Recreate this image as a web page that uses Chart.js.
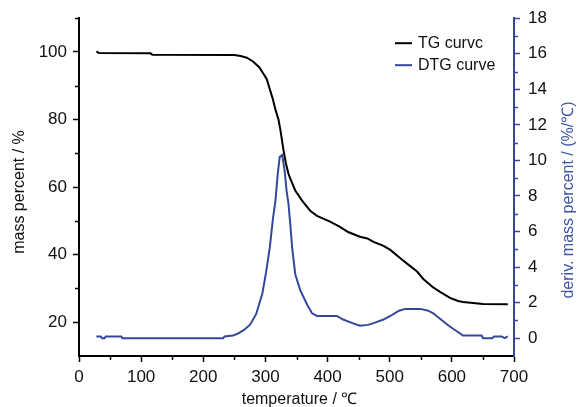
<!DOCTYPE html>
<html>
<head>
<meta charset="utf-8">
<script src="https://cdn.jsdelivr.net/npm/chart.js@4.4.1/dist/chart.umd.min.js"></script>
<style>
  body { margin: 0; background: #fff; }
  #wrap { width: 578px; height: 407px; }
</style>
</head>
<body>
<div id="wrap"><canvas id="tg-chart" width="578" height="407"></canvas></div>
<script>
// TG curve: mass percent vs temperature
const tgTemp = [28, 32, 115, 118, 250, 260, 270, 280, 290, 296, 302, 307, 312, 316, 321, 324, 329, 333, 337, 340,
  348, 359, 372, 383, 404, 420, 433, 452, 464, 474, 490, 501, 520, 533, 544, 554, 570, 581, 597, 610, 618, 650, 690];
const tgMass = [100.2, 99.7, 99.6, 99.2, 99.1, 98.8, 98.3, 97.2, 95.5, 93.8, 92, 89, 86, 83, 80, 77, 71, 67, 64, 62.5,
  59, 56, 53, 51.5, 49.8, 48.2, 46.7, 45.3, 44.8, 43.8, 42.6, 41.4, 38.5, 36.6, 35, 32.8, 30.3, 29, 27.2, 26.3, 26, 25.4, 25.3];

// DTG curve: derivative mass percent vs temperature
const dtgTemp = [28, 35, 37, 41, 43, 68, 70, 232, 234, 248, 255, 265, 275, 285, 295, 301, 307, 312, 316, 320,
  323, 327, 331, 334, 337, 340, 343, 348, 356, 367, 375, 383, 415, 425, 440, 452, 465, 474, 490, 501,
  515, 525, 549, 562, 570, 595, 618, 648, 650, 665, 668, 680, 685, 690];
const dtgRate = [0.1, 0.1, 0, 0, 0.1, 0.1, 0, 0, 0.1, 0.15, 0.25, 0.45, 0.75, 1.35, 2.5, 3.7, 5.1, 6.7, 7.7, 9.3,
  10.2, 10.3, 9.4, 8.3, 7.6, 6.4, 5.1, 3.6, 2.7, 1.9, 1.4, 1.25, 1.25, 1.05, 0.85, 0.7, 0.75, 0.85, 1.05, 1.25,
  1.55, 1.65, 1.65, 1.55, 1.4, 0.7, 0.15, 0.15, 0, 0, 0.1, 0.1, 0, 0.1];

// tick labels and the unlabelled minor ticks between them
const tempTicks = [0, 100, 200, 300, 400, 500, 600, 700];
const tempMinor = [50, 150, 250, 350, 450, 550, 650];
const massTicks = [20, 40, 60, 80, 100];
const massMinor = [30, 50, 70, 90, 110];
const derivTicks = [0, 2, 4, 6, 8, 10, 12, 14, 16, 18];
const derivMinor = [1, 3, 5, 7, 9, 11, 13, 15, 17];

const BLUE = '#34489b';
const FONT = 'Arial, "Liberation Sans", sans-serif';

function toPoints(xs, ys) {
  return xs.map((x, i) => ({ x, y: ys[i] }));
}

function fixedTicks(values) {
  return scale => { scale.ticks = values.map(v => ({ value: v })); };
}

// minor ticks, axis titles and the legend inside the plot
const decorations = {
  id: 'decorations',
  afterDraw(chart) {
    const { ctx, chartArea: area, scales } = chart;
    ctx.save();
    ctx.lineWidth = 1.5;

    const tick = (x1, y1, x2, y2) => {
      ctx.beginPath(); ctx.moveTo(x1, y1); ctx.lineTo(x2, y2); ctx.stroke();
    };

    ctx.strokeStyle = '#000';
    for (const v of tempMinor) {
      const px = Math.round(scales.x.getPixelForValue(v)) + 0.5;
      tick(px, area.bottom, px, area.bottom + 4);
    }
    for (const v of massMinor) {
      const py = Math.round(scales.y.getPixelForValue(v)) + 0.5;
      tick(area.left, py, area.left - 4, py);
    }
    ctx.strokeStyle = BLUE;
    for (const v of derivMinor) {
      const py = Math.round(scales.y2.getPixelForValue(v)) + 0.5;
      tick(area.right, py, area.right + 4, py);
    }

    // axis titles
    ctx.font = '16px ' + FONT;
    ctx.textAlign = 'center';
    ctx.textBaseline = 'middle';
    ctx.fillStyle = '#111';
    ctx.fillText('temperature / ℃', (area.left + area.right) / 2 + 3, 400);

    ctx.save();
    ctx.translate(20, 192);
    ctx.rotate(-Math.PI / 2);
    ctx.fillText('mass percent / %', 0, 0);
    ctx.restore();

    ctx.save();
    ctx.fillStyle = '#3f55a5';
    ctx.translate(569, 200);
    ctx.rotate(-Math.PI / 2);
    ctx.fillText('deriv. mass percent / (%/℃)', 0, 0);
    ctx.restore();

    // legend
    ctx.textAlign = 'left';
    chart.data.datasets.forEach((ds, i) => {
      const y = area.top + 25 + i * 22;
      const x = area.right - 119;
      ctx.strokeStyle = ds.borderColor;
      ctx.lineWidth = 2;
      tick(x, y, x + 17, y);
      ctx.fillStyle = '#111';
      ctx.fillText(ds.label, x + 23, y);
    });
    ctx.restore();
  },
};

new Chart(document.getElementById('tg-chart').getContext('2d'), {
  type: 'scatter',
  data: {
    datasets: [
      {
        label: 'TG curvc',
        data: toPoints(tgTemp, tgMass),
        yAxisID: 'y',
        showLine: true,
        borderColor: '#000',
        borderWidth: 2,
        pointRadius: 0,
        tension: 0,
      },
      {
        label: 'DTG curve',
        data: toPoints(dtgTemp, dtgRate),
        yAxisID: 'y2',
        showLine: true,
        borderColor: BLUE,
        borderWidth: 2,
        pointRadius: 0,
        tension: 0,
      },
    ],
  },
  options: {
    responsive: false,
    animation: false,
    layout: { padding: { top: 18, left: 0, right: 0, bottom: 0 } },
    plugins: { legend: { display: false }, tooltip: { enabled: false } },
    scales: {
      x: {
        type: 'linear',
        min: 0,
        max: 700,
        afterBuildTicks: fixedTicks(tempTicks),
        afterFit: s => { s.height = 51; },
        ticks: { color: '#111', font: { family: FONT, size: 17 }, padding: 5, maxRotation: 0 },
        grid: { drawOnChartArea: false, tickLength: 6, tickWidth: 1.5, tickColor: '#000' },
        border: { color: '#000', width: 2 },
      },
      y: {
        position: 'left',
        min: 10,
        max: 110,
        afterBuildTicks: fixedTicks(massTicks),
        afterFit: s => { s.width = 79; },
        ticks: { color: '#111', font: { family: FONT, size: 17 }, padding: 6 },
        grid: { drawOnChartArea: false, tickLength: 6, tickWidth: 1.5, tickColor: '#000' },
        border: { color: '#000', width: 2 },
      },
      y2: {
        position: 'right',
        min: -1,
        max: 18,
        afterBuildTicks: fixedTicks(derivTicks),
        afterFit: s => { s.width = 64; },
        ticks: { color: '#111', font: { family: FONT, size: 17 }, padding: 8 },
        grid: { drawOnChartArea: false, tickLength: 6, tickWidth: 1.5, tickColor: BLUE },
        border: { color: BLUE, width: 2 },
      },
    },
  },
  plugins: [decorations],
});
</script>
</body>
</html>
